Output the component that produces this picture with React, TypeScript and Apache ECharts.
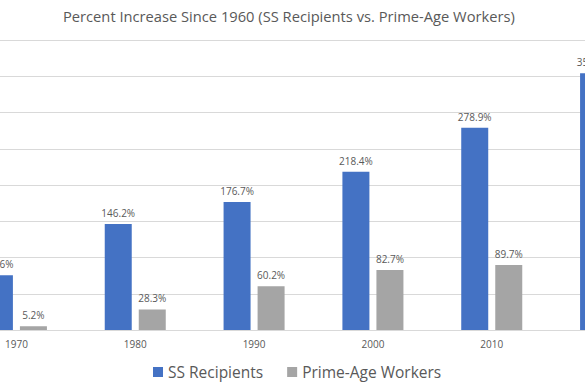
import React, { useEffect, useRef } from "react";
import * as echarts from "echarts";

const categories = ["1970", "1980", "1990", "2000", "2010", "2020"];
const ssRecipients = [75.6, 146.2, 176.7, 218.4, 278.9, 354.3];
const primeAgeWorkers = [5.2, 28.3, 60.2, 82.7, 89.7, 88.5];
const seriesNames = ["SS Recipients", "Prime-Age Workers"];
const titleText = "Percent Increase Since 1960 (SS Recipients vs. Prime-Age Workers)";

const OFFSET_LEFT = 43;
const CHART_WIDTH = 713;

export default function App() {
  const ref = useRef<HTMLDivElement>(null);
  useEffect(() => {
    if (!ref.current) return;
    const chart = echarts.init(ref.current, null, { renderer: "svg" });
    const labelStyle = {
      show: true,
      position: "top" as const,
      distance: 6,
      color: "#595959",
      fontSize: 10,
      fontFamily: "Open Sans",
      formatter: (p: any) => p.value.toFixed(1) + "%",
    };
    chart.setOption({
      animation: false,
      backgroundColor: "#ffffff",
      title: {
        text: titleText,
        left: 63 + OFFSET_LEFT,
        top: 8,
        padding: 0,
        textStyle: {
          color: "#595959",
          fontSize: 14.7,
          fontWeight: "normal",
          fontFamily: "Open Sans",
        },
      },
      legend: {
        data: seriesNames,
        left: 153 + OFFSET_LEFT,
        top: 364,
        padding: 0,
        itemWidth: 10,
        itemHeight: 10,
        itemGap: 24,
        icon: "rect",
        textStyle: {
          color: "#595959",
          fontSize: 15.5,
          fontFamily: "Open Sans",
        },
      },
      grid: {
        left: 0,
        right: 0,
        top: 40,
        bottom: 60,
        containLabel: false,
      },
      xAxis: {
        type: "category",
        data: categories,
        axisTick: { show: false },
        axisLine: { lineStyle: { color: "#D9D9D9" } },
        axisLabel: {
          color: "#595959",
          fontSize: 10,
          fontFamily: "Open Sans",
          margin: 9,
        },
      },
      yAxis: {
        type: "value",
        min: 0,
        max: 400,
        interval: 50,
        axisLabel: { show: false },
        axisLine: { show: false },
        axisTick: { show: false },
        splitLine: { lineStyle: { color: "#D9D9D9" } },
      },
      series: [
        {
          name: seriesNames[0],
          type: "bar",
          data: ssRecipients,
          barWidth: 27,
          barGap: "26%",
          itemStyle: { color: "#4472C4" },
          label: labelStyle,
        },
        {
          name: seriesNames[1],
          type: "bar",
          data: primeAgeWorkers,
          barWidth: 27,
          barGap: "26%",
          itemStyle: { color: "#A5A5A5" },
          label: labelStyle,
        },
      ],
    });
    return () => chart.dispose();
  }, []);
  return (
    <div style={{ position: "absolute", left: 0, top: 0, width: 585, height: 390, overflow: "hidden", background: "#fff" }}>
      <div ref={ref} style={{ position: "absolute", left: -OFFSET_LEFT, top: 0, width: CHART_WIDTH, height: 390 }} />
    </div>
  );
}
